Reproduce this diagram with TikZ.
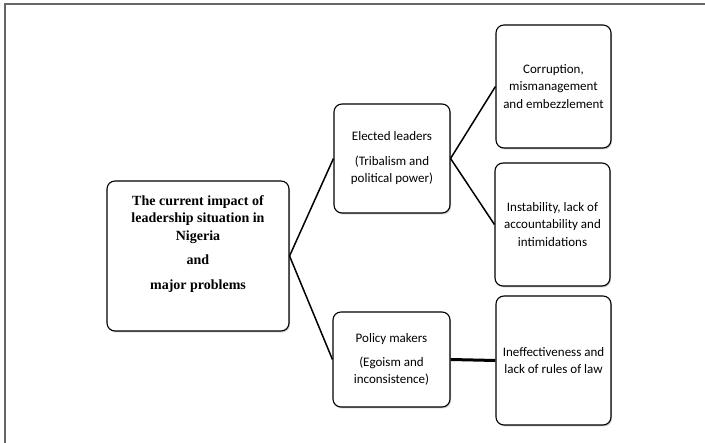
\documentclass[tikz,border=0pt]{standalone}
\usepackage{fontspec}
\setmainfont{Liberation Serif}
\setsansfont{Carlito}
\usepackage{tikz}
\usetikzlibrary{shadows}
\tikzset{box/.style = {draw, rounded corners = 8pt, line width = 1.1pt, fill = white,
                       drop shadow = {shadow xshift = 1pt, shadow yshift = -1.5pt, opacity = 0.4}}}
\tikzset{lbl/.style = {align = center, font = \sffamily\fontsize{13}{17.5}\selectfont}}
\tikzset{headlbl/.style = {align = center, font = \bfseries\fontsize{14}{17.5}\selectfont}}
\tikzset{link/.style = {line width = 1.5pt}}

\begin{document}
\begin{tikzpicture}[x = 1pt, y = -1pt]
    \useasboundingbox (0, 0) rectangle (705, 443);
    \draw [line width = 1.2pt, black!60] (5, 443) -- (5, 4) -- (705, 4);

    \node [box, minimum width = 182pt, minimum height = 150pt] (1) at (198, 256) {};
    \node [headlbl] (1t) at (198, 244) {The current impact of\\leadership situation in\\Nigeria\\[7pt]and\\[7pt]major problems};
    \node [box, lbl, minimum width = 116pt, minimum height = 109pt] (2) at (392, 158.5)
        {Elected leaders\\[7pt](Tribalism and\\political power)};
    \node [box, lbl, minimum width = 117pt, minimum height = 95pt] (3) at (391.5, 359.5)
        {Policy makers\\[6pt](Egoism and\\inconsistence)};
    \node [box, lbl, minimum width = 115pt, minimum height = 123pt] (4) at (553.5, 86.5)
        {Corruption,\\mismanagement\\and embezzlement};
    \node [box, lbl, minimum width = 115pt, minimum height = 123pt] (5) at (552.5, 224.5)
        {Instability, lack of\\accountability and\\intimidations};
    \node [box, lbl, minimum width = 115pt, minimum height = 129pt] (6) at (553.5, 360.5)
        {Ineffectiveness and\\lack of rules of law};

    \draw [link] (1.east) -- (2.west);
    \draw [link] (1.east) -- (3.west);
    \draw [link] (2.east) -- (4.west);
    \draw [link] (2.east) -- (5.west);
    \draw [line width = 3pt] (3.east) -- (6.west);
  \end{tikzpicture}
\end{document}
